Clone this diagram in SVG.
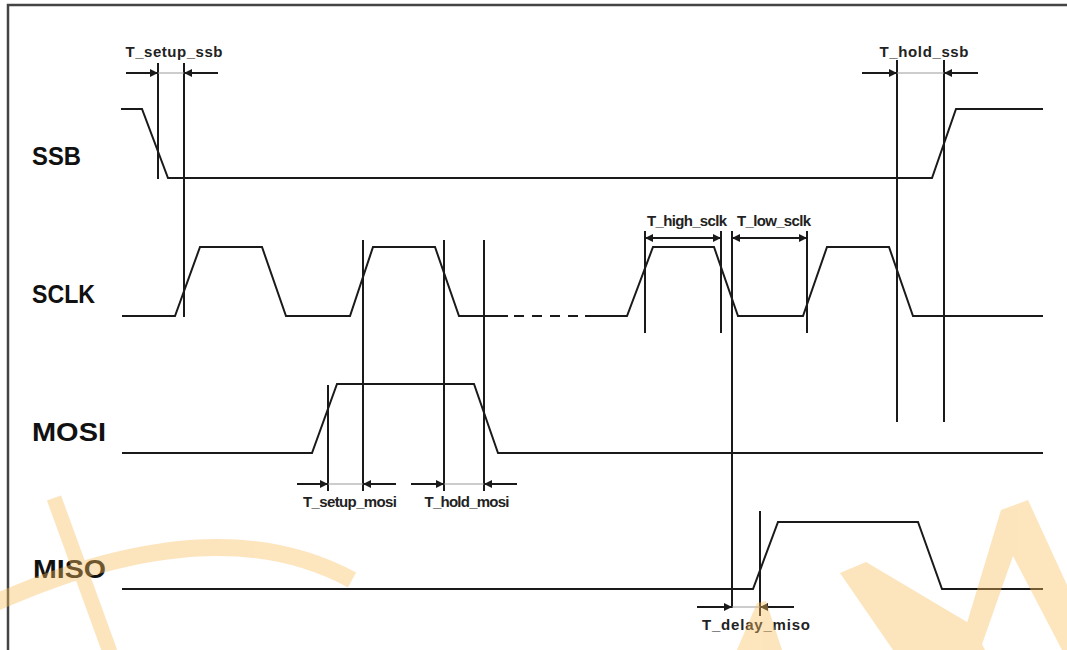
<svg xmlns="http://www.w3.org/2000/svg" width="1067" height="650" viewBox="0 0 1067 650">
  <defs>
    <style>
      .sig { fill: none; stroke: #1a1a1a; stroke-width: 2; stroke-linejoin: miter; }
      .vl { stroke: #1a1a1a; stroke-width: 2; }
      .dim { stroke: #1a1a1a; stroke-width: 2; }
      .thin { stroke: #9a9a9a; stroke-width: 1; }
      .name { font-family: "Liberation Sans", Arial, sans-serif; font-weight: bold; font-size: 25px; fill: #111; }
      .lbl { font-family: "Liberation Sans", Arial, sans-serif; font-weight: bold; font-size: 15px; fill: #222; text-anchor: middle; }
    </style>
    <marker id="ah" markerUnits="userSpaceOnUse" markerWidth="9" markerHeight="9" refX="8" refY="4" orient="auto-start-reverse">
      <path d="M0,0 L8,4 L0,8 z" fill="#1a1a1a"/>
    </marker>
  </defs>

  <rect x="0" y="0" width="1067" height="650" fill="#ffffff"/>

  <g id="border">
    <path d="M8,650 L8,5 L1067,5" fill="none" stroke="#444" stroke-width="2.5"/>
  </g>

  <g id="signal-names">
    <text class="name" x="32" y="165" textLength="49" lengthAdjust="spacingAndGlyphs">SSB</text>
    <text class="name" x="32" y="303" textLength="63" lengthAdjust="spacingAndGlyphs">SCLK</text>
    <text class="name" x="32" y="441" textLength="74" lengthAdjust="spacingAndGlyphs">MOSI</text>
    <text class="name" x="33" y="578" textLength="73" lengthAdjust="spacingAndGlyphs">MISO</text>
  </g>

  <g id="ssb">
    <path class="sig" d="M121,109 L142,109 L168,178 L932,178 L956,109 L1043,109"/>
  </g>

  <g id="sclk">
    <path class="sig" d="M122,316 L175,316 L200,247 L262,247 L286,316 L350,316 L373,247 L435,247 L459,316 L508,316"/>
    <path class="sig" d="M514,316 L578,316" stroke-dasharray="10 8"/>
    <path class="sig" d="M585,316 L627,316 L653,247 L714,247 L738,316 L803,316 L827,247 L889,247 L913,316 L1043,316"/>
  </g>

  <g id="mosi">
    <path class="sig" d="M122,453 L312,453 L337,384 L474,384 L498,453 L1043,453"/>
  </g>

  <g id="miso">
    <path class="sig" d="M122,589 L753,589 L778,522 L918,522 L942,589 L1043,589"/>
  </g>

  <g id="connectors">
    <line class="vl" x1="158" y1="63" x2="158" y2="179"/>
    <line class="vl" x1="184" y1="63" x2="184" y2="317"/>
    <line class="vl" x1="897" y1="60" x2="897" y2="422"/>
    <line class="vl" x1="944" y1="60" x2="944" y2="422"/>
    <line class="vl" x1="645" y1="231" x2="645" y2="333"/>
    <line class="vl" x1="721" y1="231" x2="721" y2="333"/>
    <line class="vl" x1="732" y1="231" x2="732" y2="608"/>
    <line class="vl" x1="807" y1="231" x2="807" y2="333"/>
    <line class="vl" x1="363" y1="240" x2="363" y2="491"/>
    <line class="vl" x1="444" y1="240" x2="444" y2="491"/>
    <line class="vl" x1="484" y1="240" x2="484" y2="491"/>
    <line class="vl" x1="328" y1="385" x2="328" y2="491"/>
    <line class="vl" x1="760" y1="511" x2="760" y2="616"/>
  </g>

  <g id="dimensions">
    <line class="thin" x1="158" y1="73" x2="184" y2="73"/>
    <line class="dim" x1="126" y1="73" x2="158" y2="73" marker-end="url(#ah)"/>
    <line class="dim" x1="218" y1="73" x2="184" y2="73" marker-end="url(#ah)"/>
    <text class="lbl" x="174" y="57" textLength="97">T_setup_ssb</text>

    <line class="thin" x1="897" y1="73" x2="944" y2="73"/>
    <line class="dim" x1="862" y1="73" x2="897" y2="73" marker-end="url(#ah)"/>
    <line class="dim" x1="978" y1="73" x2="944" y2="73" marker-end="url(#ah)"/>
    <text class="lbl" x="924" y="57" textLength="89">T_hold_ssb</text>

    <line class="dim" x1="645" y1="238" x2="721" y2="238" marker-start="url(#ah)" marker-end="url(#ah)"/>
    <text class="lbl" x="687" y="226" textLength="80">T_high_sclk</text>

    <line class="dim" x1="732" y1="238" x2="807" y2="238" marker-start="url(#ah)" marker-end="url(#ah)"/>
    <text class="lbl" x="774" y="226" textLength="74">T_low_sclk</text>

    <line class="thin" x1="328" y1="484" x2="363" y2="484"/>
    <line class="dim" x1="297" y1="484" x2="328" y2="484" marker-end="url(#ah)"/>
    <line class="dim" x1="396" y1="484" x2="363" y2="484" marker-end="url(#ah)"/>
    <text class="lbl" x="350" y="507" textLength="94">T_setup_mosi</text>

    <line class="thin" x1="444" y1="484" x2="484" y2="484"/>
    <line class="dim" x1="411" y1="484" x2="444" y2="484" marker-end="url(#ah)"/>
    <line class="dim" x1="517" y1="484" x2="484" y2="484" marker-end="url(#ah)"/>
    <text class="lbl" x="467" y="507" textLength="85">T_hold_mosi</text>

    <line class="thin" x1="732" y1="607" x2="760" y2="607"/>
    <line class="dim" x1="697" y1="607" x2="732" y2="607" marker-end="url(#ah)"/>
    <line class="dim" x1="794" y1="607" x2="760" y2="607" marker-end="url(#ah)"/>
    <text class="lbl" x="756" y="630" textLength="108">T_delay_miso</text>
  </g>

  <g id="watermark" opacity="0.4" fill="#FABE5C" stroke="none">
    <path d="M-5,603 Q215,505 352,580" fill="none" stroke="#FABE5C" stroke-width="17"/>
    <line x1="54" y1="498" x2="110" y2="652" stroke="#FABE5C" stroke-width="15"/>
    <polygon points="757,603 766,601 782,650 737,650"/>
    <polygon points="840,573 866,562 972,625 985,650 893,650"/>
    <polygon points="967,623 1001,510 1028,500 1067,585 1067,650 1062,650 1013,556 980,650"/>
  </g>
</svg>
